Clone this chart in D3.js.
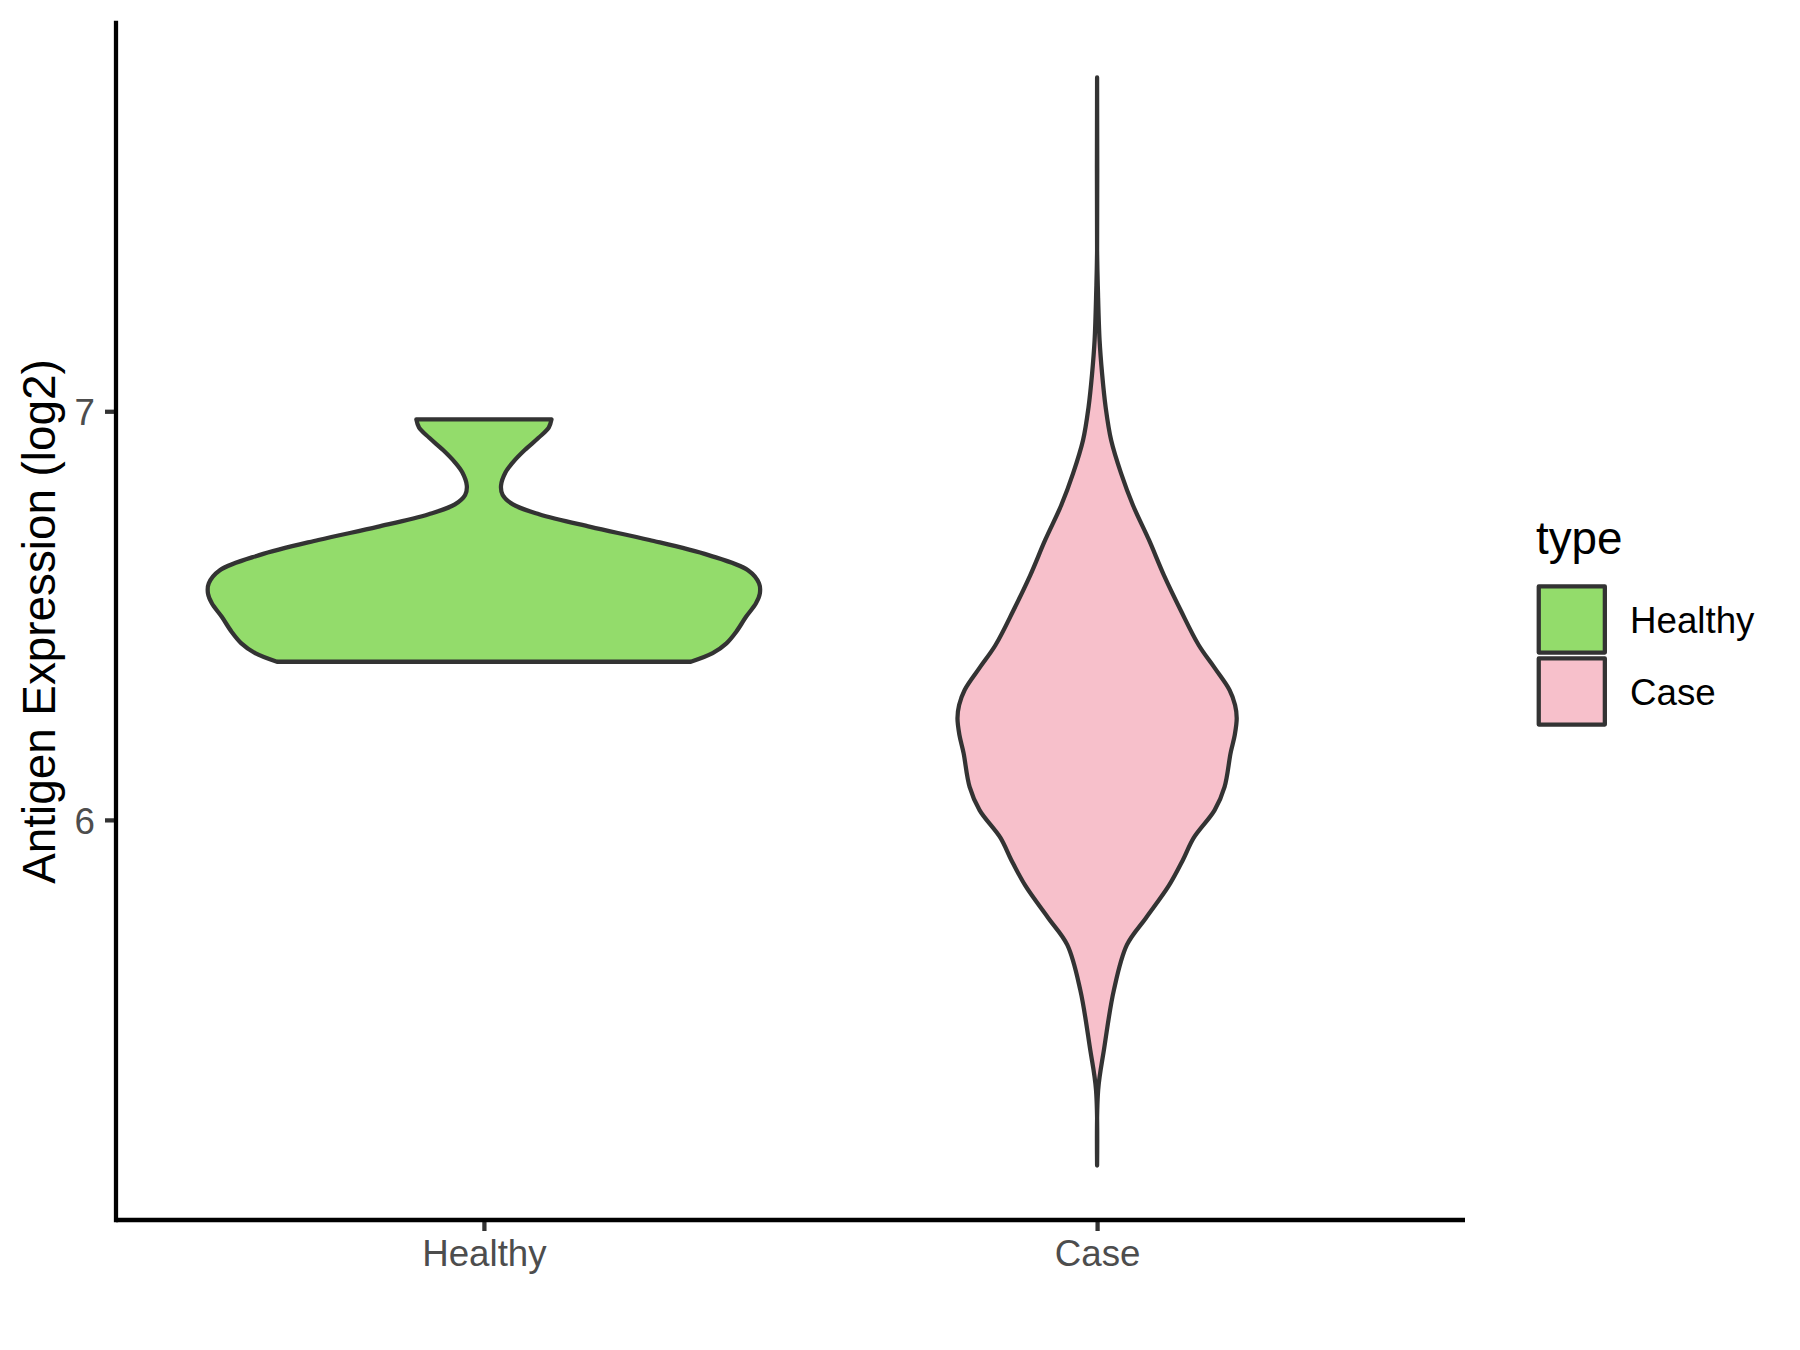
<!DOCTYPE html>
<html>
<head>
<meta charset="utf-8">
<script src="https://cdn.jsdelivr.net/npm/d3@7"></script>
<style>
  html, body { margin: 0; padding: 0; background: #ffffff; }
  svg { display: block; }
  text { font-family: "Liberation Sans", Arial, Helvetica, sans-serif; }
</style>
</head>
<body>
<svg id="chart" width="1800" height="1350"></svg>
<script>
// ---- data ----
const categories = ["Healthy", "Case"];
const fillColors = ["#93DC6B", "#F7C0CB"];
const yTickValues = [6, 7];
const yTitle = "Antigen Expression (log2)";
const legendTitle = "type";

// violin profiles: expression value (log2) and relative density (max = 1)
const healthyValues  = [6.387, 6.408, 6.432, 6.460, 6.497, 6.530, 6.554, 6.579, 6.611, 6.648, 6.685, 6.717, 6.748, 6.772, 6.795, 6.818, 6.850, 6.875, 6.905, 6.935, 6.960, 6.980];
const healthyDensity = [0.750, 0.829, 0.879, 0.914, 0.950, 0.986, 1.000, 0.997, 0.957, 0.814, 0.600, 0.386, 0.200, 0.105, 0.068, 0.062, 0.078, 0.105, 0.148, 0.198, 0.235, 0.245];

const caseValues  = [5.154, 5.340, 5.438, 5.584, 5.694, 5.760, 5.839, 5.902, 5.956, 6.024, 6.081, 6.164, 6.208, 6.249, 6.281, 6.318, 6.372, 6.428, 6.513, 6.599, 6.685, 6.770, 6.848, 6.929, 7.010, 7.093, 7.174, 7.296, 7.394, 7.817];
const caseDensity = [0.000, 0.004, 0.025, 0.061, 0.108, 0.177, 0.260, 0.311, 0.350, 0.426, 0.462, 0.484, 0.499, 0.506, 0.500, 0.480, 0.426, 0.368, 0.303, 0.242, 0.188, 0.130, 0.087, 0.051, 0.031, 0.018, 0.009, 0.003, 0.000, 0.000];

const violins = [
  { cat: "Healthy", values: healthyValues, density: healthyDensity, fill: fillColors[0] },
  { cat: "Case",    values: caseValues,    density: caseDensity,    fill: fillColors[1] }
];

// ---- layout ----
const panel = { left: 116, right: 1465, top: 23, bottom: 1220 };
const lineW = 4.27;
const outline = "#333333";
const tickFont = 36.7, titleFont = 45.8;

const svg = d3.select("#chart");
svg.append("rect").attr("width", 1800).attr("height", 1350).attr("fill", "#ffffff");

const allVals = healthyValues.concat(caseValues);
const vMin = d3.min(allVals), vMax = d3.max(allVals);
const pad = (vMax - vMin) * 0.05;
const y = d3.scaleLinear().domain([vMin - pad, vMax + pad]).range([panel.bottom, panel.top]);
const x = d3.scalePoint().domain(categories).range([panel.left, panel.right]).padding(0.6);
const w = d3.scaleLinear().domain([0, 1]).range([0, 0.45 * x.step()]);

// ---- violins ----
violins.forEach(v => {
  const cx = x(v.cat);
  const pts = v.values.map((val, i) => ({ val, d: v.density[i] }));
  const area = d3.area()
    .y(p => y(p.val))
    .x0(p => cx - w(p.d))
    .x1(p => cx + w(p.d))
    .curve(d3.curveCatmullRom.alpha(0.5));
  svg.append("path")
    .attr("d", area(pts))
    .attr("fill", v.fill)
    .attr("stroke", outline)
    .attr("stroke-width", lineW)
    .attr("stroke-linejoin", "round");
});

// ---- axes ----
const yAxis = d3.axisLeft(y).tickValues(yTickValues).tickSize(11).tickPadding(10).tickFormat(d3.format("d"));
const gy = svg.append("g").attr("transform", `translate(${panel.left},0)`).call(yAxis);
gy.select(".domain").remove();
gy.selectAll(".tick line").attr("stroke", outline).attr("stroke-width", lineW);
gy.selectAll(".tick text")
  .attr("fill", "#4D4D4D").attr("font-size", tickFont)
  .attr("dy", null).attr("dominant-baseline", "central").attr("y", 1)
  .style("font-family", '"Liberation Sans", Arial, sans-serif');

const xAxis = d3.axisBottom(x).tickSize(11).tickPadding(8.8);
const gx = svg.append("g").attr("transform", `translate(0,${panel.bottom})`).call(xAxis);
gx.select(".domain").remove();
gx.selectAll(".tick line").attr("stroke", outline).attr("stroke-width", lineW);
gx.selectAll(".tick text")
  .attr("fill", "#4D4D4D").attr("font-size", tickFont)
  .attr("dy", null).attr("y", 46)
  .style("font-family", '"Liberation Sans", Arial, sans-serif');

// axis lines
svg.append("line")
  .attr("x1", panel.left).attr("x2", panel.left)
  .attr("y1", panel.top).attr("y2", panel.bottom)
  .attr("stroke", "#000").attr("stroke-width", lineW).attr("stroke-linecap", "square");
svg.append("line")
  .attr("x1", panel.left).attr("x2", panel.right)
  .attr("y1", panel.bottom).attr("y2", panel.bottom)
  .attr("stroke", "#000").attr("stroke-width", lineW).attr("stroke-linecap", "butt");

// y title
svg.append("text")
  .attr("transform", `translate(55,${(panel.top + panel.bottom) / 2}) rotate(-90)`)
  .attr("text-anchor", "middle")
  .attr("font-size", titleFont)
  .attr("fill", "#000")
  .text(yTitle);

// ---- legend ----
const lg = { x: 1535.8, titleY: 554, keyTop: 583.5, key: 72, labelX: 1630 };
svg.append("text")
  .attr("x", 1536).attr("y", lg.titleY)
  .attr("font-size", titleFont).attr("fill", "#000")
  .text(legendTitle);
const inset = 5.9;
categories.forEach((c, i) => {
  const top = lg.keyTop + i * lg.key;
  svg.append("rect")
    .attr("x", lg.x + inset / 2).attr("y", top + inset / 2)
    .attr("width", lg.key - inset).attr("height", lg.key - inset)
    .attr("fill", fillColors[i])
    .attr("stroke", outline).attr("stroke-width", lineW)
    .attr("stroke-linejoin", "round");
  svg.append("text")
    .attr("x", lg.labelX).attr("y", top + lg.key / 2 + 13.1)
    .attr("font-size", tickFont).attr("fill", "#000")
    .text(c);
});
</script>
</body>
</html>
